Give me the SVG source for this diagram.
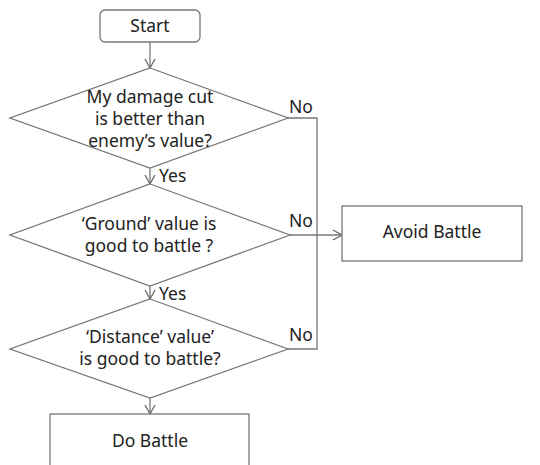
<svg xmlns="http://www.w3.org/2000/svg" width="540" height="465" viewBox="0 0 540 465">
<defs>
<style>
.s{fill:#fff;stroke:#777;stroke-width:1.3}
.c{fill:none;stroke:#777;stroke-width:1.3}
text{font-family:"Noto Sans","Open Sans","DejaVu Sans",sans-serif;font-size:17.5px;fill:#222}
.m{text-anchor:middle}
</style>
<marker id="a" markerWidth="12" markerHeight="12" refX="10" refY="6" orient="auto" markerUnits="userSpaceOnUse">
<path d="M1,1 L10,6 L1,11" fill="none" stroke="#666" stroke-width="1.3"/>
</marker>
</defs>
<rect width="540" height="465" fill="#fff"/>
<g id="connectors">
<line class="c" x1="150" y1="42" x2="150" y2="68" marker-end="url(#a)"/>
<line class="c" x1="150" y1="168" x2="150" y2="184" marker-end="url(#a)"/>
<line class="c" x1="150" y1="286" x2="150" y2="299" marker-end="url(#a)"/>
<line class="c" x1="150" y1="398" x2="150" y2="414" marker-end="url(#a)"/>
<polyline class="c" points="288,118 317,118 317,349 288,349"/>
<line class="c" x1="290" y1="235" x2="342" y2="235" marker-end="url(#a)"/>
<text x="289" y="113">No</text>
<text x="289" y="227">No</text>
<text x="289" y="341">No</text>
<text x="159" y="182">Yes</text>
<text x="159" y="300">Yes</text>
</g>
<g id="start">
<rect class="s" x="100" y="10" width="100" height="32" rx="5"/>
<text class="m" x="150" y="32">Start</text>
</g>
<g id="d1">
<polygon class="s" points="150,68 288,118 150,168 10,118"/>
<text class="m" x="150" y="103">My damage cut</text>
<text class="m" x="150" y="125">is better than</text>
<text class="m" x="150" y="147">enemy’s value?</text>
</g>
<g id="d2">
<polygon class="s" points="150,184 290,235 150,286 10,235"/>
<text class="m" x="149" y="230">‘Ground’ value is</text>
<text class="m" x="149" y="252">good to battle ?</text>
</g>
<g id="d3">
<polygon class="s" points="150,299 288,349 150,398 10,349"/>
<text class="m" x="150" y="343">‘Distance’ value’</text>
<text class="m" x="150" y="365">is good to battle?</text>
</g>
<g id="avoid">
<rect class="s" x="342" y="206" width="180" height="55"/>
<text class="m" x="432" y="238">Avoid Battle</text>
</g>
<g id="do">
<rect class="s" x="50" y="414" width="199" height="60"/>
<text class="m" x="150" y="447">Do Battle</text>
</g>
</svg>
